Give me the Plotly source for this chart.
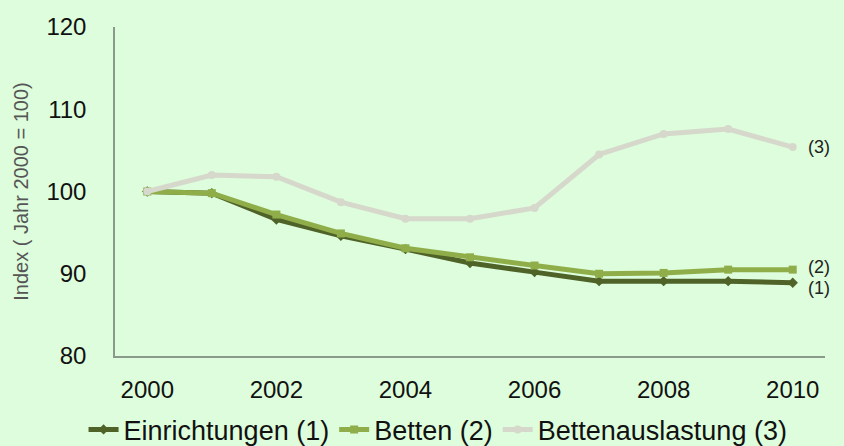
import plotly.graph_objects as go

years = list(range(2000, 2011))
einrichtungen = [100.0, 99.8, 96.6, 94.6, 93.0, 91.3, 90.2, 89.1, 89.1, 89.1, 88.9]
betten = [100.0, 99.8, 97.2, 94.9, 93.1, 92.0, 91.0, 90.0, 90.1, 90.5, 90.5]
auslastung = [100.0, 102.0, 101.8, 98.7, 96.7, 96.7, 98.0, 104.5, 107.0, 107.6, 105.4]

names = ["Einrichtungen (1)", "Betten (2)", "Bettenauslastung (3)"]
end_labels = ["(1)", "(2)", "(3)"]
colors = ["#4f6228", "#8fae4a", "#d6d8cc"]
symbols = ["diamond", "square", "circle"]
series = [einrichtungen, betten, auslastung]
x_ticks = [2000, 2002, 2004, 2006, 2008, 2010]
y_ticks = [80, 90, 100, 110, 120]

FONT = "Liberation Sans, Arial, sans-serif"
bg = "#ddfddc"
fig = go.Figure()
for name, vals, col, sym in zip(names, series, colors, symbols):
    fig.add_trace(go.Scatter(
        x=years, y=vals, name=name, mode="lines+markers",
        line=dict(color=col, width=5),
        marker=dict(symbol=sym, size=8, color=col),
    ))

label_shift = [-5, 3, 0]
for lab, vals, dy in zip(end_labels, series, label_shift):
    fig.add_annotation(x=years[-1], y=vals[-1], text=lab, showarrow=False,
                       xanchor="left", xshift=13, yshift=dy,
                       font=dict(family=FONT, size=18, color="#222"))

fig.update_layout(
    width=844, height=446,
    paper_bgcolor=bg, plot_bgcolor=bg,
    margin=dict(l=115, r=19, t=27, b=90, autoexpand=False),
    font=dict(family=FONT, color="#111"),
    showlegend=True,
    legend=dict(orientation="h", x=0.455, xanchor="center", y=-0.15, yanchor="top",
                font=dict(size=27), tracegroupgap=0,
                bgcolor="rgba(0,0,0,0)"),
)
fig.update_xaxes(range=[1999.5, 2010.5], tickvals=x_ticks,
                 tickfont=dict(size=24), showgrid=False, zeroline=False,
                 showline=True, linecolor="#8a9a8a", linewidth=1.5, ticks="",
                 ticklabelstandoff=11)
fig.update_yaxes(range=[80, 120], tickvals=y_ticks,
                 tickfont=dict(size=24), showgrid=False, zeroline=False,
                 showline=True, linecolor="#8a9a8a", linewidth=1.5, ticks="",
                 ticklabelstandoff=22,
                 title=dict(text="Index ( Jahr 2000 = 100)", font=dict(size=20, color="#555"), standoff=12))

fig.write_html("out.html", config={"displayModeBar": False},
               post_script="document.body.style.margin='0';")
